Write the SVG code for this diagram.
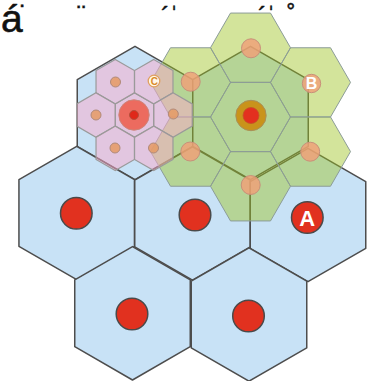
<svg xmlns="http://www.w3.org/2000/svg" xmlns:xlink="http://www.w3.org/1999/xlink" width="374" height="381" viewBox="0 0 374 381">
<defs>
<polygon id="hexBig" points="0,-66.7 57.76,-33.35 57.76,33.35 0,66.7 -57.76,33.35 -57.76,-33.35"/>
<polygon id="hexFlat" points="40,0 20,34.64 -20,34.64 -40,0 -20,-34.64 20,-34.64"/>
<polygon id="hexSmall" points="0,-22.2 19.23,-11.1 19.23,11.1 0,22.2 -19.23,11.1 -19.23,-11.1"/>
</defs>
<style>
.title{font-family:"Liberation Sans",Arial,sans-serif;font-size:39px;fill:#111;stroke:#111;stroke-width:0.6}
.mark{font-family:"Liberation Sans",Arial,sans-serif;font-size:26px;fill:#111;stroke:#111;stroke-width:0.4}
.blue{fill:#c8e2f6;stroke:#4d4d4d;stroke-width:1.5;stroke-linejoin:round}
.green{fill:#9dc321;fill-opacity:.45;stroke:#8c9c98;stroke-width:1}
.pink{fill:#fcaaca;fill-opacity:.5;stroke:#9a9a9a;stroke-width:1.2}
.red{fill:#e1311f;stroke:#4a4a4a;stroke-width:1.5}
.gdot{fill:#f0a078;fill-opacity:.82;stroke:#c8907a;stroke-width:1}
.pdot{fill:#e59a64;fill-opacity:.85;stroke:#b08a7a;stroke-width:1}
.lbl{font-family:"Liberation Sans",Arial,sans-serif;font-weight:bold;fill:#fff;text-anchor:middle}
</style>
<rect width="374" height="381" fill="#fff"/>
<g id="title">
<text class="title" x="1" y="32">á</text>
<text class="mark" x="19" y="24">˙</text>
<text class="mark" x="77" y="24">¨</text>
<text class="mark" x="161" y="25">´ˈ</text>
<text class="mark" x="258" y="25">´ˈ</text>
<text class="mark" x="287" y="24">˚</text>
</g>
<g id="blue-cells">
<g id="cell-top"><use href="#hexBig" x="135" y="113" class="blue"/></g>
<g id="cell-top-right"><use href="#hexBig" x="250.5" y="113" class="blue"/></g>
<g id="cell-left"><use href="#hexBig" x="76.7" y="213" class="blue"/></g>
<g id="cell-mid"><use href="#hexBig" x="192.5" y="213.5" class="blue"/></g>
<g id="cell-right"><use href="#hexBig" x="308" y="215" class="blue"/></g>
<g id="cell-bottom-left"><use href="#hexBig" x="132.5" y="313.3" class="blue"/></g>
<g id="cell-bottom-right"><use href="#hexBig" x="249" y="314.5" class="blue"/></g>
</g>
<g id="green-cluster">
<use href="#hexFlat" x="250.5" y="117" class="green"/>
<use href="#hexFlat" x="250.5" y="47.7" class="green"/>
<use href="#hexFlat" x="250.5" y="186.3" class="green"/>
<use href="#hexFlat" x="190.5" y="82.4" class="green"/>
<use href="#hexFlat" x="310.5" y="82.4" class="green"/>
<use href="#hexFlat" x="190.5" y="151.6" class="green"/>
<use href="#hexFlat" x="310.5" y="151.6" class="green"/>
<circle cx="251" cy="48.3" r="9.5" class="gdot"/>
<circle cx="190.7" cy="81.7" r="9.5" class="gdot"/>
<circle cx="190.3" cy="151.5" r="9.5" class="gdot"/>
<circle cx="310.2" cy="151.7" r="9.5" class="gdot"/>
<circle cx="250.7" cy="185" r="9.5" class="gdot"/>
<g id="node-B">
<circle cx="311.5" cy="83.5" r="9.2" class="gdot"/>
<text class="lbl" x="311.5" y="89.3" font-size="16">B</text>
</g>
<circle cx="251" cy="115.5" r="15.2" fill="#c9931b" stroke="#a8905a" stroke-width="1"/>
<circle cx="251" cy="115.5" r="8" fill="#e3301f" stroke="#c05428" stroke-width="0.8"/>
</g>
<g id="pink-cluster">
<use href="#hexSmall" x="134.5" y="115" class="pink"/>
<use href="#hexSmall" x="115.25" y="81.7" class="pink"/>
<use href="#hexSmall" x="153.75" y="81.7" class="pink"/>
<use href="#hexSmall" x="96" y="115" class="pink"/>
<use href="#hexSmall" x="173" y="115" class="pink"/>
<use href="#hexSmall" x="115.25" y="148.3" class="pink"/>
<use href="#hexSmall" x="153.75" y="148.3" class="pink"/>
<circle cx="115.5" cy="82" r="5" class="pdot"/>
<circle cx="96" cy="115" r="5" class="pdot"/>
<circle cx="173.3" cy="114" r="5" class="pdot"/>
<circle cx="115" cy="148" r="5" class="pdot"/>
<circle cx="153.5" cy="148" r="5" class="pdot"/>
<g id="node-C">
<circle cx="154" cy="81" r="5.8" fill="#fff8ea" stroke="#e0a060" stroke-width="1.3"/>
<text x="154.3" y="84.6" font-size="10" font-family="Liberation Sans, Arial, sans-serif" font-weight="bold" fill="#d98a2a" text-anchor="middle">C</text>
</g>
<circle cx="134" cy="115" r="15.2" fill="#ec6b5f" stroke="#cc857a" stroke-width="1"/>
<circle cx="134" cy="115" r="4.5" fill="#e0281a" stroke="#b5503c" stroke-width="1"/>
</g>
<g id="stations">
<g id="node-left"><circle cx="76.3" cy="213.3" r="15.8" class="red"/></g>
<g id="node-mid"><circle cx="195" cy="215" r="15.8" class="red"/></g>
<g id="node-A"><circle cx="307.3" cy="217.5" r="15.8" class="red"/>
<text class="lbl" x="307.3" y="225.5" font-size="22">A</text></g>
<g id="node-bottom-left"><circle cx="132" cy="314" r="15.8" class="red"/></g>
<g id="node-bottom-right"><circle cx="248.5" cy="316" r="15.8" class="red"/></g>
</g>
<g id="connectors"/>
</svg>
